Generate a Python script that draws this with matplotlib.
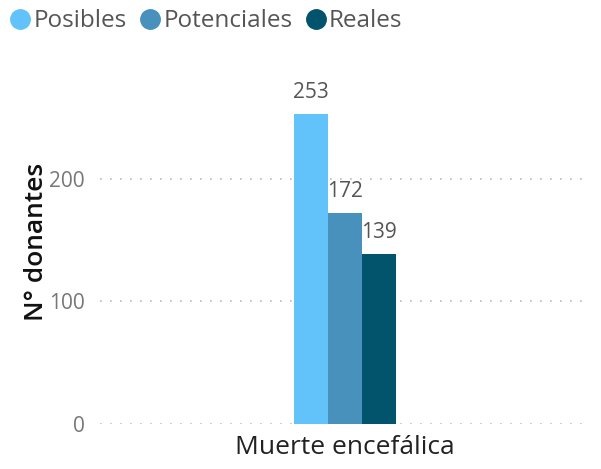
import matplotlib.pyplot as plt
from matplotlib.lines import Line2D

categoria = ["Muerte encefálica"]
series = ["Posibles", "Potenciales", "Reales"]
valores = [253, 172, 139]
colores = ["#61C3FA", "#4891BC", "#02536C"]

plt.rcParams['font.family'] = ['Open Sans', 'DejaVu Sans']

fig = plt.figure(figsize=(6.01, 4.69), dpi=100)
ax = fig.add_axes([100/601, 1-424/469, 490/601, (424-60)/469])

w = 34/490
for i, (s, v, c) in enumerate(zip(series, valores, colores)):
    x = (i - 1) * w
    ax.bar(x, v, width=w, color=c, zorder=3)
    ax.text(x, v + 9, str(v), ha='center', va='bottom', fontsize=15, color='#555555')

ax.set_xlim(-0.5, 0.5)
ax.set_ylim(0, 297)
ax.set_yticks([0, 100, 200])
ax.set_xticks([0])
ax.set_xticklabels(categoria, fontsize=19, color='#222222')
ax.tick_params(axis='y', length=0, labelsize=15, labelcolor='#777777', pad=11)
ax.tick_params(axis='x', length=0, pad=8)
ax.yaxis.grid(True, linestyle=(0, (1, 5)), color='#bbbbbb', linewidth=1.2)
for sp in ax.spines.values():
    sp.set_visible(False)
ax.set_ylabel("N° donantes", fontsize=19, color='#111111', labelpad=0, fontweight='semibold')

handles = [Line2D([], [], marker='o', linestyle='', markersize=14, color=c) for c in colores]
fig.legend(handles, series, loc='upper left', bbox_to_anchor=(-0.025, 1.027), ncol=3,
           frameon=False, fontsize=17.5, handletextpad=0.0, columnspacing=0.4,
           handlelength=1.1, labelcolor='#555555')

fig.savefig("out.png", dpi=100)
